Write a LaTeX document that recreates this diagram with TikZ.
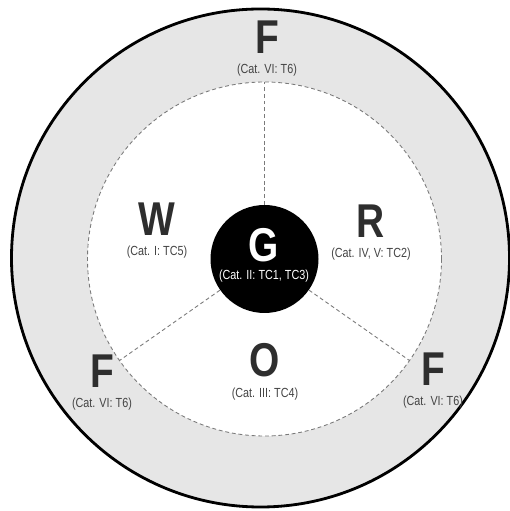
\documentclass[tikz,border=0pt]{standalone}
\usepackage{fontspec}
\IfFontExistsTF{Liberation Sans Narrow}{\setmainfont{Liberation Sans Narrow}}{\setmainfont{Liberation Sans}[FakeStretch=0.82]}
\usetikzlibrary{positioning}
\definecolor{ringgray}{HTML}{E6E6E6}
\definecolor{inkgray}{HTML}{2E2E2E}
\definecolor{labelgray}{HTML}{444444}
\definecolor{dashgray}{HTML}{7A7A7A}

\begin{document}
\begin{tikzpicture}[
  letter/.style={font=\fontsize{27}{27}\selectfont\bfseries,text=inkgray,inner sep=0pt},
  cat/.style={font=\fontsize{7.5}{9}\selectfont,text=labelgray,inner sep=0pt},
  spoke/.style={draw=dashgray,dash pattern=on 2.2pt off 1.6pt,line width=0.5pt},
  ring/.style={circle,inner sep=0pt},
]
\useasboundingbox (0,0) rectangle (10.2,10.22);
\node[ring,draw=black,line width=1.6pt,fill=ringgray,minimum size=9.96cm] (outer) at (5.21,5.06) {};
\node[ring,spoke,fill=white,minimum size=7.08cm] (inner) at (5.29,5.04) {};
\node[ring,fill=black,minimum size=2.16cm] (core) at (5.29,5.04) {};
\draw[spoke] (core.90) -- (inner.90);
\draw[spoke] (core.215) -- (inner.215);
\draw[spoke] (core.-35) -- (inner.-35);
\node[letter] (fTop) at (5.34,9.48) {F};
\node[cat,below=2mm of fTop] (fTopCat) {(Cat. VI: T6)};
\node[letter] (w) at (3.14,5.84) {W};
\node[cat,below=2mm of w] (wCat) {(Cat. I: TC5)};
\node[letter] (r) at (7.42,5.80) {R};
\node[cat,below=2mm of r] (rCat) {(Cat. IV, V: TC2)};
\node[letter,text=white] (g) at (5.28,5.32) {G};
\node[cat,text=white,below=1.4mm of g] (gCat) {(Cat. II: TC1, TC3)};
\node[letter] (o) at (5.30,3.02) {O};
\node[cat,below=2mm of o] (oCat) {(Cat. III: TC4)};
\node[letter] (fLeft) at (2.04,2.80) {F};
\node[cat,below=2mm of fLeft] (fLeftCat) {(Cat. VI: T6)};
\node[letter] (fRight) at (8.66,2.84) {F};
\node[cat,below=2mm of fRight] (fRightCat) {(Cat. VI: T6)};
\end{tikzpicture}
\end{document}
